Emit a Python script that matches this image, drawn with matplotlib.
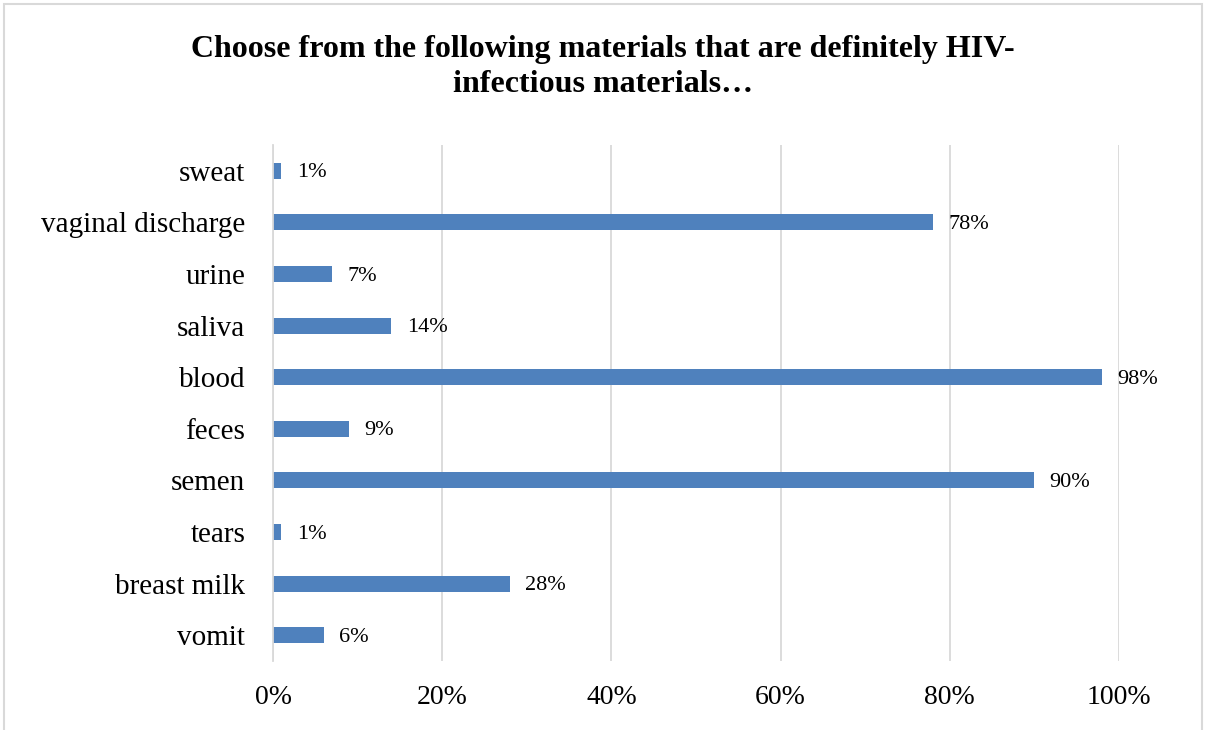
import matplotlib.pyplot as plt
from matplotlib.patches import Rectangle
from matplotlib.ticker import PercentFormatter

# --- Data (top to bottom as shown) ---
categories = ['sweat', 'vaginal discharge', 'urine', 'saliva', 'blood',
              'feces', 'semen', 'tears', 'breast milk', 'vomit']
values = [1, 78, 7, 14, 98, 9, 90, 1, 28, 6]
title = "Choose from the following materials that are definitely HIV-\ninfectious materials…"

BAR_COLOR = '#4F81BD'
GRID_COLOR = '#D9D9D9'

plt.rcParams['font.family'] = ['Liberation Serif', 'DejaVu Serif']

fig = plt.figure(figsize=(12.06, 7.30), dpi=100)
ax = fig.add_axes([0.2264, 0.0945, 0.7015, 0.7069])

# categories are listed top-down, so reverse for barh
ypos = list(range(len(categories)))[::-1]
bars = ax.barh(ypos, values, height=0.31, color=BAR_COLOR)

for b, v in zip(bars, values):
    ax.annotate(f'{v}%', (b.get_width(), b.get_y() + b.get_height() / 2),
                xytext=(11, -1.5), textcoords='offset points',
                va='center', ha='left', fontsize=16)

ax.set_xlim(0, 100)
ax.set_ylim(-0.5, len(categories) - 0.5)
ax.set_xticks([0, 20, 40, 60, 80, 100])
ax.xaxis.set_major_formatter(PercentFormatter(decimals=0))
ax.set_yticks(ypos)
ax.set_yticklabels(categories)
ax.tick_params(axis='both', length=0)
ax.tick_params(axis='y', pad=20, labelsize=21)
ax.tick_params(axis='x', pad=17, labelsize=20)

ax.grid(axis='x', color=GRID_COLOR, linewidth=1.3)
ax.set_axisbelow(True)
for s in ['top', 'right', 'bottom']:
    ax.spines[s].set_visible(False)
ax.spines['left'].set_color(GRID_COLOR)
ax.spines['left'].set_linewidth(1.3)

fig.text(0.5, 0.908, title, ha='center', va='center', fontsize=23,
         fontweight='bold', linespacing=1.3)

# light border around the chart area
fig.patches.append(Rectangle((4 / 1206, -0.01), 1198 / 1206, 1 - 4 / 730 + 0.01,
                             transform=fig.transFigure, fill=False,
                             edgecolor='#D9D9D9', linewidth=1.5))

fig.savefig('out.png', dpi=100)
